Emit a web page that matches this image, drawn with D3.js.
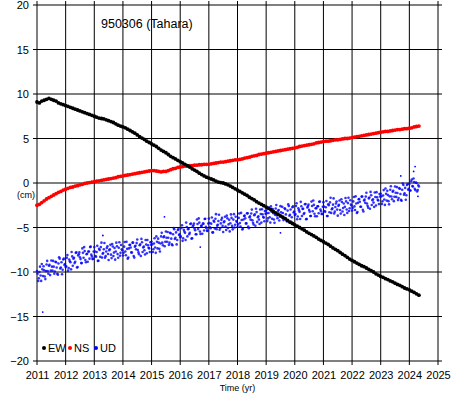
<!DOCTYPE html>
<html>
<head>
<meta charset="utf-8">
<script src="https://cdn.jsdelivr.net/npm/d3@7"></script>
<style>
body { margin: 0; background: #fff; }
svg text { font-family: "Liberation Sans", Arial, Helvetica, sans-serif; fill: #000; }
</style>
</head>
<body>
<div class="canvas"></div>
<script>
// station + axis setup
const title = '950306 (Tahara)';
const years = d3.range(2011, 2026);           // x tick labels
const cmTicks = [-20, -15, -10, -5, 0, 5, 10, 15, 20];
const legendNames = ['EW', 'NS', 'UD'];
const colours = ['#000000', '#ff0000', '#0000ff'];

// monthly values from 2011.0 (cm)
const ewStart = 2011, ewStep = 1 / 12;
const ew = [
  9.1, 9.0, 9.2, 9.3, 9.4, 9.5, 9.4, 9.3, 9.2, 9.0, 8.9, 8.8,
  8.7, 8.6, 8.5, 8.4, 8.3, 8.2, 8.1, 8.0, 7.9, 7.8, 7.7, 7.6,
  7.5, 7.4, 7.3, 7.25, 7.2, 7.1, 7.0, 6.9, 6.8, 6.65, 6.5, 6.4,
  6.3, 6.2, 6.05, 5.9, 5.75, 5.6, 5.4, 5.2, 5.05, 4.9, 4.7, 4.55,
  4.4, 4.25, 4.1, 3.9, 3.7, 3.55, 3.4, 3.2, 3.0, 2.85, 2.7, 2.55,
  2.4, 2.25, 2.1, 1.95, 1.8, 1.6, 1.45, 1.3, 1.1, 0.95, 0.8, 0.65,
  0.55, 0.45, 0.35, 0.2, 0.1, 0.05, 0.0, -0.1, -0.2, -0.35, -0.5, -0.65,
  -0.8, -0.95, -1.1, -1.25, -1.4, -1.6, -1.75, -1.9, -2.1, -2.25, -2.4, -2.55,
  -2.7, -2.85, -3.0, -3.2, -3.35, -3.5, -3.7, -3.85, -4.0, -4.2, -4.4, -4.55,
  -4.7, -4.85, -5.0, -5.15, -5.3, -5.5, -5.65, -5.8, -5.95, -6.1, -6.3, -6.45,
  -6.6, -6.75, -6.9, -7.1, -7.3, -7.45, -7.6, -7.8, -8.0, -8.15, -8.35, -8.55,
  -8.7, -8.85, -9.0, -9.15, -9.3, -9.4, -9.55, -9.7, -9.85, -10.0, -10.2, -10.35,
  -10.5, -10.6, -10.75, -10.85, -11.0, -11.1, -11.25, -11.4, -11.5, -11.65, -11.8, -11.9,
  -12.0, -12.15, -12.3, -12.45, -12.6
];

const ns = [
  -2.5, -2.4, -2.2, -2.0, -1.8, -1.65, -1.5, -1.35, -1.2, -1.05, -0.95, -0.8,
  -0.7, -0.6, -0.5, -0.45, -0.35, -0.3, -0.2, -0.15, -0.05, 0.0, 0.05, 0.1,
  0.15, 0.2, 0.25, 0.3, 0.35, 0.4, 0.45, 0.5, 0.55, 0.6, 0.7, 0.75,
  0.8, 0.85, 0.9, 0.95, 1.0, 1.05, 1.1, 1.15, 1.2, 1.25, 1.3, 1.35,
  1.4, 1.4, 1.35, 1.3, 1.25, 1.3, 1.3, 1.4, 1.5, 1.6, 1.65, 1.75,
  1.8, 1.85, 1.9, 1.9, 1.95, 1.95, 2.0, 2.0, 2.05, 2.05, 2.1, 2.1,
  2.1, 2.15, 2.2, 2.25, 2.3, 2.35, 2.35, 2.4, 2.45, 2.5, 2.55, 2.6,
  2.6, 2.65, 2.7, 2.8, 2.85, 2.9, 3.0, 3.05, 3.1, 3.2, 3.25, 3.3,
  3.35, 3.4, 3.45, 3.5, 3.55, 3.6, 3.65, 3.7, 3.75, 3.8, 3.85, 3.9,
  3.95, 4.0, 4.1, 4.15, 4.2, 4.25, 4.3, 4.35, 4.4, 4.5, 4.55, 4.6,
  4.65, 4.7, 4.7, 4.75, 4.8, 4.85, 4.85, 4.9, 4.95, 5.0, 5.0, 5.05,
  5.1, 5.15, 5.2, 5.25, 5.3, 5.35, 5.4, 5.45, 5.5, 5.55, 5.6, 5.65,
  5.7, 5.75, 5.8, 5.8, 5.85, 5.9, 5.95, 6.0, 6.0, 6.05, 6.1, 6.1,
  6.15, 6.2, 6.3, 6.35, 6.4
];

// vertical is noisy: two readings a month (ud), plus a second set half a step later (ud2)
const udStep = 1 / 24;
const ud = [
  -9.9, -11.0, -10.0, -10.4, -9.1, -10.45, -9.8, -10.8, -9.15, -9.9, -9.3, -10.35, -8.7, -9.85, -9.4, -9.95, -8.9, -10.2, -9.05, -8.5, -9.5, -10.25, -8.6, -9.2,
  -9.45, -8.4, -9.85, -8.6, -8.9, -7.75, -9.3, -8.4, -8.85, -7.8, -9.45, -8.0, -8.35, -9.0, -7.35, -8.4, -7.65, -8.9, -7.95, -7.7, -8.5, -7.15, -8.25, -8.5,
  -7.2, -8.2, -7.75, -8.75, -7.4, -8.3, -6.7, -7.95, -7.45, -8.4, -7.7, -7.1, -8.65, -7.45, -8.05, -6.85, -8.2, -7.3, -7.7, -7.1, -8.4, -6.65, -7.85, -7.45,
  -8.15, -7.15, -7.7, -6.6, -8.5, -7.35, -6.95, -7.8, -6.7, -8.2, -7.15, -7.45, -6.35, -7.8, -7.0, -8.2, -6.65, -7.25, -7.55, -6.4, -7.9, -7.0, -7.35, -6.65,
  -6.6, -7.75, -6.8, -7.25, -6.0, -7.35, -6.7, -7.7, -6.0, -6.7, -6.1, -7.1, -5.45, -6.6, -6.15, -6.7, -5.65, -6.9, -5.75, -5.2, -6.15, -6.9, -5.28, -5.85,
  -6.1, -5.05, -6.5, -5.25, -5.6, -4.45, -6.0, -5.15, -5.6, -4.55, -6.2, -4.75, -5.1, -5.75, -4.1, -5.18, -4.45, -5.72, -4.8, -4.57, -5.34, -4.01, -5.08, -5.35,
  -4.0, -4.98, -4.57, -5.55, -4.24, -5.12, -3.5, -4.79, -4.27, -5.26, -4.54, -3.92, -5.51, -4.3, -4.88, -3.67, -5.05, -4.14, -4.53, -3.92, -5.21, -3.5, -4.69, -4.28,
  -4.95, -3.92, -4.49, -3.36, -5.23, -4.1, -3.67, -4.54, -3.41, -4.88, -3.85, -4.12, -2.99, -4.46, -3.63, -4.8, -3.27, -3.84, -4.11, -2.98, -4.45, -3.52, -3.89, -3.16,
  -3.1, -4.28, -3.37, -3.85, -2.63, -4.02, -3.4, -4.48, -2.87, -3.65, -3.13, -4.22, -2.6, -3.78, -3.37, -3.95, -2.93, -4.22, -3.1, -2.58, -3.57, -4.35, -2.73, -3.32,
  -3.6, -2.58, -4.07, -2.85, -3.24, -2.12, -3.71, -2.89, -3.38, -2.36, -4.05, -2.63, -3.02, -3.7, -2.09, -3.17, -2.46, -3.74, -2.83, -2.61, -3.4, -2.09, -3.18, -3.47,
  -2.15, -3.14, -2.72, -3.71, -2.39, -3.28, -1.66, -2.95, -2.43, -3.42, -2.7, -2.09, -3.67, -2.46, -3.04, -1.83, -3.21, -2.3, -2.68, -2.07, -3.36, -1.65, -2.84, -2.42,
  -3.1, -2.07, -2.63, -1.5, -3.37, -2.23, -1.8, -2.67, -1.53, -3.0, -1.97, -2.23, -1.1, -2.57, -1.73, -2.9, -1.37, -1.93, -2.2, -1.07, -2.53, -1.6, -1.97, -1.23,
  -1.2, -2.35, -1.4, -1.86, -0.62, -1.98, -1.34, -2.4, -0.76, -1.52, -0.98, -2.04, -0.4, -1.56, -1.12, -1.68, -0.64, -1.9, -0.76, -0.22, -1.15, -1.88, -0.22, -0.75,
  -0.1, -0.85, 0.4, -0.4, 0.1, -0.8, 0.0, -0.8, -0.4
];
const ud2 = [
  -10.2, -10.7, -9.4, -11.0, -9.7, -9.35, -10.5, -9.9, -8.75, -10.2, -9.2, -9.85, -9.4, -8.75, -10.2, -8.85, -9.5, -10.3, -8.35, -9.6, -8.9, -9.75, -8.5, -9.1,
  -9.35, -8.1, -9.55, -8.8, -9.7, -8.25, -8.5, -9.0, -7.85, -9.5, -8.15, -7.8, -8.55, -9.0, -7.85, -7.2, -8.65, -8.0, -8.85, -7.7, -7.2, -8.05, -8.55, -7.7,
  -7.7, -8.28, -7.06, -8.74, -7.52, -7.2, -8.38, -7.86, -6.74, -8.22, -7.3, -7.98, -7.56, -6.95, -8.44, -7.13, -7.82, -8.61, -6.7, -7.99, -7.28, -8.17, -6.96, -7.55,
  -7.85, -6.63, -8.11, -7.4, -8.38, -6.96, -7.24, -7.82, -6.7, -8.38, -7.06, -6.75, -7.53, -8.01, -6.9, -6.28, -7.76, -7.15, -8.03, -6.91, -6.4, -7.28, -7.76, -6.95,
  -6.9, -7.45, -6.2, -7.85, -6.6, -6.25, -7.4, -6.8, -5.6, -7.0, -6.0, -6.6, -6.15, -5.5, -6.95, -5.6, -6.25, -7.0, -5.05, -6.3, -5.55, -6.4, -5.18, -5.75,
  -6.0, -4.75, -6.2, -5.45, -6.4, -4.95, -5.2, -5.75, -4.6, -6.25, -4.9, -4.55, -5.3, -5.75, -4.6, -3.98, -5.45, -4.82, -5.7, -4.57, -4.04, -4.91, -5.38, -4.55,
  -4.5, -5.08, -3.87, -5.55, -4.34, -4.02, -5.2, -4.69, -3.57, -5.06, -4.14, -4.82, -4.41, -3.8, -5.28, -3.97, -4.65, -5.44, -3.53, -4.82, -4.11, -5.0, -3.79, -4.38,
  -4.65, -3.42, -4.89, -4.16, -5.13, -3.7, -3.97, -4.54, -3.41, -5.08, -3.75, -3.42, -4.19, -4.66, -3.53, -2.9, -4.37, -3.74, -4.61, -3.48, -2.95, -3.82, -4.29, -3.46,
  -3.4, -3.98, -2.77, -4.45, -3.23, -2.92, -4.1, -3.58, -2.47, -3.95, -3.03, -3.72, -3.3, -2.68, -4.17, -2.85, -3.53, -4.32, -2.4, -3.68, -2.97, -3.85, -2.63, -3.22,
  -3.5, -2.28, -3.77, -3.05, -4.04, -2.62, -2.91, -3.49, -2.38, -4.06, -2.75, -2.43, -3.22, -3.7, -2.59, -1.97, -3.46, -2.84, -3.73, -2.61, -2.1, -2.99, -3.48, -2.67,
  -2.65, -3.24, -2.02, -3.71, -2.49, -2.18, -3.36, -2.85, -1.73, -3.22, -2.3, -2.99, -2.57, -1.96, -3.44, -2.13, -2.81, -3.6, -1.68, -2.97, -2.26, -3.15, -1.94, -2.52,
  -2.8, -1.57, -3.03, -2.3, -3.27, -1.83, -2.1, -2.67, -1.53, -3.2, -1.87, -1.53, -2.3, -2.77, -1.63, -1.0, -2.47, -1.83, -2.7, -1.57, -1.03, -1.9, -2.37, -1.53,
  -1.5, -2.05, -0.8, -2.46, -1.22, -0.88, -2.04, -1.5, -0.36, -1.82, -0.88, -1.54, -1.1, -0.46, -1.92, -0.58, -1.24, -2.0, -0.06, -1.32, -0.55, -1.38, -0.12, -0.65,
  -0.85, 0.2, -0.35, 0.5, -0.65, 0.05, -0.95, -0.25
];
// a few stray UD readings
const udOddYear = [2011.2, 2013.3, 2015.45, 2016.7, 2019.5, 2023.7, 2024.15, 2024.2, 2024.3];
const udOddVal  = [-14.5, -5.9, -3.8, -7.2, -5.6, 0.8, 1.3, 1.85, -1.5];

const dims = { width: 465, height: 396 };
const svg = d3.select('.canvas').append('svg')
    .attr('width', dims.width)
    .attr('height', dims.height);

const x = d3.scaleLinear().domain([2011, 2025]).range([37, 438]);
const y = d3.scaleLinear().domain([-20, 20]).range([361, 5]);

// grid (ticks stick out 4px on every side)
const grid = svg.append('g');
grid.selectAll('.hline').data(cmTicks).enter().append('line')
    .attr('x1', x(2011) - 4).attr('x2', x(2025) + 4)
    .attr('y1', d => y(d)).attr('y2', d => y(d))
    .attr('stroke', '#000').attr('stroke-width', 1);
grid.selectAll('.vline').data(years).enter().append('line')
    .attr('x1', d => x(d)).attr('x2', d => x(d))
    .attr('y1', y(20) - 4).attr('y2', y(-20) + 4)
    .attr('stroke', '#000').attr('stroke-width', 1);

// axis labels
const yAxis = d3.axisLeft(y).tickValues(cmTicks).tickSize(0).tickPadding(8);
const yg = svg.append('g').attr('transform', `translate(${x(2011)},0)`).call(yAxis);
const xAxis = d3.axisBottom(x).tickValues(years).tickFormat(d3.format('d')).tickSize(0).tickPadding(10);
const xg = svg.append('g').attr('transform', `translate(0,${y(-20)})`).call(xAxis);
[yg, xg].forEach(g => {
    g.select('.domain').remove();
    g.selectAll('text').attr('font-size', 11).attr('font-family', null);
});

svg.append('text').attr('x', 26).attr('y', y(0) + 15)
    .attr('text-anchor', 'middle').attr('font-size', 9).text('(cm)');
svg.append('text').attr('x', (x(2011) + x(2025)) / 2).attr('y', 391)
    .attr('text-anchor', 'middle').attr('font-size', 9).text('Time (yr)');
svg.append('text').attr('x', 101).attr('y', 28)
    .attr('font-size', 12.5).text(title);

// series dots: UD underneath, EW on top
const plot = svg.append('g');
plot.selectAll('.ud').data(ud).enter().append('circle')
    .attr('cx', (d, i) => x(ewStart + i * udStep)).attr('cy', d => y(d))
    .attr('r', 1.3).attr('fill', colours[2]).attr('opacity', 0.8);
plot.selectAll('.ud2').data(ud2).enter().append('circle')
    .attr('cx', (d, i) => x(ewStart + (i + 0.5) * udStep)).attr('cy', d => y(d))
    .attr('r', 1.3).attr('fill', colours[2]).attr('opacity', 0.8);
plot.selectAll('.udodd').data(udOddVal).enter().append('circle')
    .attr('cx', (d, i) => x(udOddYear[i])).attr('cy', d => y(d))
    .attr('r', 0.9).attr('fill', colours[2]);
plot.selectAll('.ns').data(ns).enter().append('circle')
    .attr('cx', (d, i) => x(ewStart + i * ewStep)).attr('cy', d => y(d))
    .attr('r', 1.9).attr('fill', colours[1]);
plot.selectAll('.ew').data(ew).enter().append('circle')
    .attr('cx', (d, i) => x(ewStart + i * ewStep)).attr('cy', d => y(d))
    .attr('r', 1.9).attr('fill', colours[0]);

// legend
const legend = svg.append('g');
const legX = [44, 70, 96];
legendNames.forEach((name, i) => {
    legend.append('circle').attr('cx', legX[i]).attr('cy', 348).attr('r', 2).attr('fill', colours[i]);
    legend.append('text').attr('x', legX[i] + 4).attr('y', 352).attr('font-size', 11).text(name);
});
</script>
</body>
</html>
